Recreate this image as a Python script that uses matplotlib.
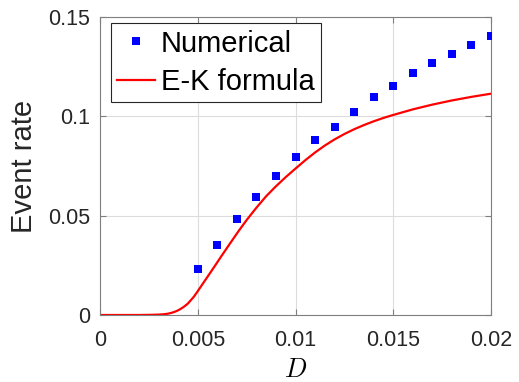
import matplotlib
matplotlib.use("Agg")
import matplotlib.pyplot as plt

plt.rcParams['font.family'] = ['Liberation Sans', 'DejaVu Sans']
plt.rcParams['mathtext.fontset'] = 'cm'

# numerical event rates
D_num = [0.005, 0.006, 0.007, 0.008, 0.009, 0.010, 0.011, 0.012,
         0.013, 0.014, 0.015, 0.016, 0.017, 0.018, 0.019, 0.020]
rate_num = [0.0234, 0.0351, 0.0484, 0.0595, 0.0700, 0.0795, 0.0879, 0.0947,
            0.1021, 0.1095, 0.1152, 0.1216, 0.1267, 0.1314, 0.1361, 0.1403]

# E-K formula curve
D_ek = [0.0, 0.001, 0.002, 0.0027, 0.003, 0.0033, 0.0035, 0.0037, 0.0039,
        0.0041, 0.0043, 0.0045, 0.0048, 0.005, 0.0054, 0.0058, 0.0062,
        0.00665, 0.0071, 0.0075, 0.008, 0.0085, 0.009, 0.0095, 0.010,
        0.0105, 0.011, 0.0115, 0.012, 0.0125, 0.013, 0.0135, 0.014, 0.0145,
        0.015, 0.016, 0.017, 0.018, 0.019, 0.020]
rate_ek = [0.0, 0.0, 0.0, 0.0001, 0.0002, 0.0004, 0.0007, 0.0012, 0.0019,
           0.0029, 0.0042, 0.0058, 0.0092, 0.0120, 0.0178, 0.0236, 0.0295,
           0.0360, 0.0424, 0.0478, 0.0540, 0.0598, 0.0648, 0.0694, 0.0737,
           0.0779, 0.0818, 0.0853, 0.0884, 0.0911, 0.0935, 0.0956, 0.0975,
           0.0992, 0.1007, 0.1035, 0.1059, 0.1080, 0.1098, 0.1114]

xticks = [0, 0.005, 0.01, 0.015, 0.02]
xticklabels = ['0', '0.005', '0.01', '0.015', '0.02']
yticks = [0, 0.05, 0.1, 0.15]
yticklabels = ['0', '0.05', '0.1', '0.15']

fig = plt.figure(figsize=(5.19, 3.82), dpi=100)
ax = fig.add_axes([100/519, 67/382, 391/519, 298/382])

ax.plot(D_num, rate_num, 's', color=(0, 0, 1), markersize=5.8,
        markeredgewidth=0, label='Numerical', zorder=3)
ax.plot(D_ek, rate_ek, '-', color=(1, 0, 0), linewidth=1.6,
        label='E-K formula', zorder=2)

ax.set_xlim(0, 0.02)
ax.set_ylim(0, 0.15)
ax.set_xticks(xticks)
ax.set_xticklabels(xticklabels)
ax.set_yticks(yticks)
ax.set_yticklabels(yticklabels)

ax.grid(True, color='#dcdcdc', linewidth=0.8)
ax.set_axisbelow(True)
for s in ax.spines.values():
    s.set_color('#7f7f7f')
    s.set_linewidth(0.8)
ax.tick_params(direction='in', length=4, width=0.8, color='#7f7f7f',
               labelsize=15.5, labelcolor='#262626', top=True, right=True,
               labeltop=False, labelright=False)
ax.tick_params(axis='x', pad=11)
ax.tick_params(axis='y', pad=7)

ax.set_xlabel('$D$', fontsize=19, labelpad=5)
ax.set_ylabel('Event rate', fontsize=21, color='#262626', labelpad=7)

leg = ax.legend(loc='upper left', bbox_to_anchor=(0.027, 0.979),
                borderaxespad=0, fontsize=21, fancybox=False, framealpha=1,
                edgecolor='#262626', handlelength=1.3, handletextpad=0.2,
                borderpad=0.22, labelspacing=0.35, markerscale=1.0)
leg.get_frame().set_linewidth(0.8)

fig.savefig('out.png', dpi=100)
